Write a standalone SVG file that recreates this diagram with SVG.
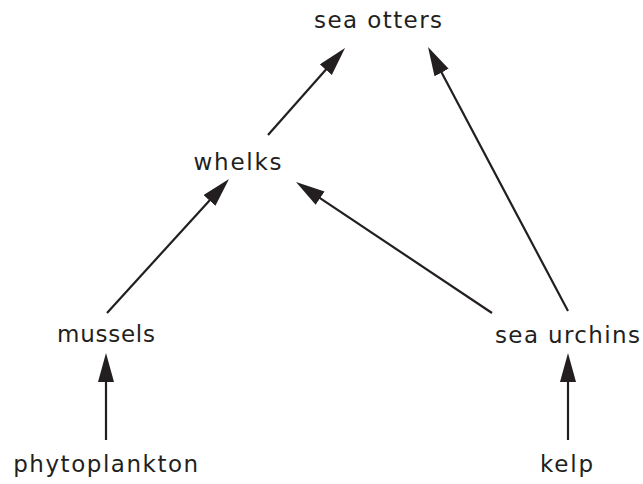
<svg xmlns="http://www.w3.org/2000/svg" width="643" height="484" viewBox="0 0 643 484">
<style>
text{font-family:"DejaVu Sans","Open Sans",sans-serif;font-size:23px;fill:#231f20;text-anchor:middle}
.c line{stroke:#231f20;stroke-width:2.2;marker-end:url(#ah)}
</style>
<defs>
<marker id="ah" markerUnits="userSpaceOnUse" markerWidth="30" markerHeight="18" refX="19" refY="8" orient="auto">
<path d="M0,0 L29,8 L0,16 z" fill="#231f20"/>
</marker>
</defs>
<rect width="643" height="484" fill="#fff"/>
<g class="c" id="connectors">
<line x1="106" y1="440" x2="106" y2="363"/>
<line x1="568" y1="440" x2="568" y2="363"/>
<line x1="107" y1="313" x2="222.3" y2="186.4"/>
<line x1="492" y1="313" x2="304.3" y2="187.6"/>
<line x1="268" y1="135" x2="338.4" y2="55.5"/>
<line x1="568" y1="311" x2="432.7" y2="55.8"/>
</g>
<g id="sea-otters"><text x="378" y="28" textLength="128">sea otters</text></g>
<g id="whelks"><text x="237.5" y="170" textLength="88">whelks</text></g>
<g id="mussels"><text x="106" y="342" textLength="98">mussels</text></g>
<g id="sea-urchins"><text x="567.5" y="343" textLength="145">sea urchins</text></g>
<g id="phytoplankton"><text x="105.7" y="472" textLength="185">phytoplankton</text></g>
<g id="kelp"><text x="566.5" y="472" textLength="53">kelp</text></g>
</svg>
